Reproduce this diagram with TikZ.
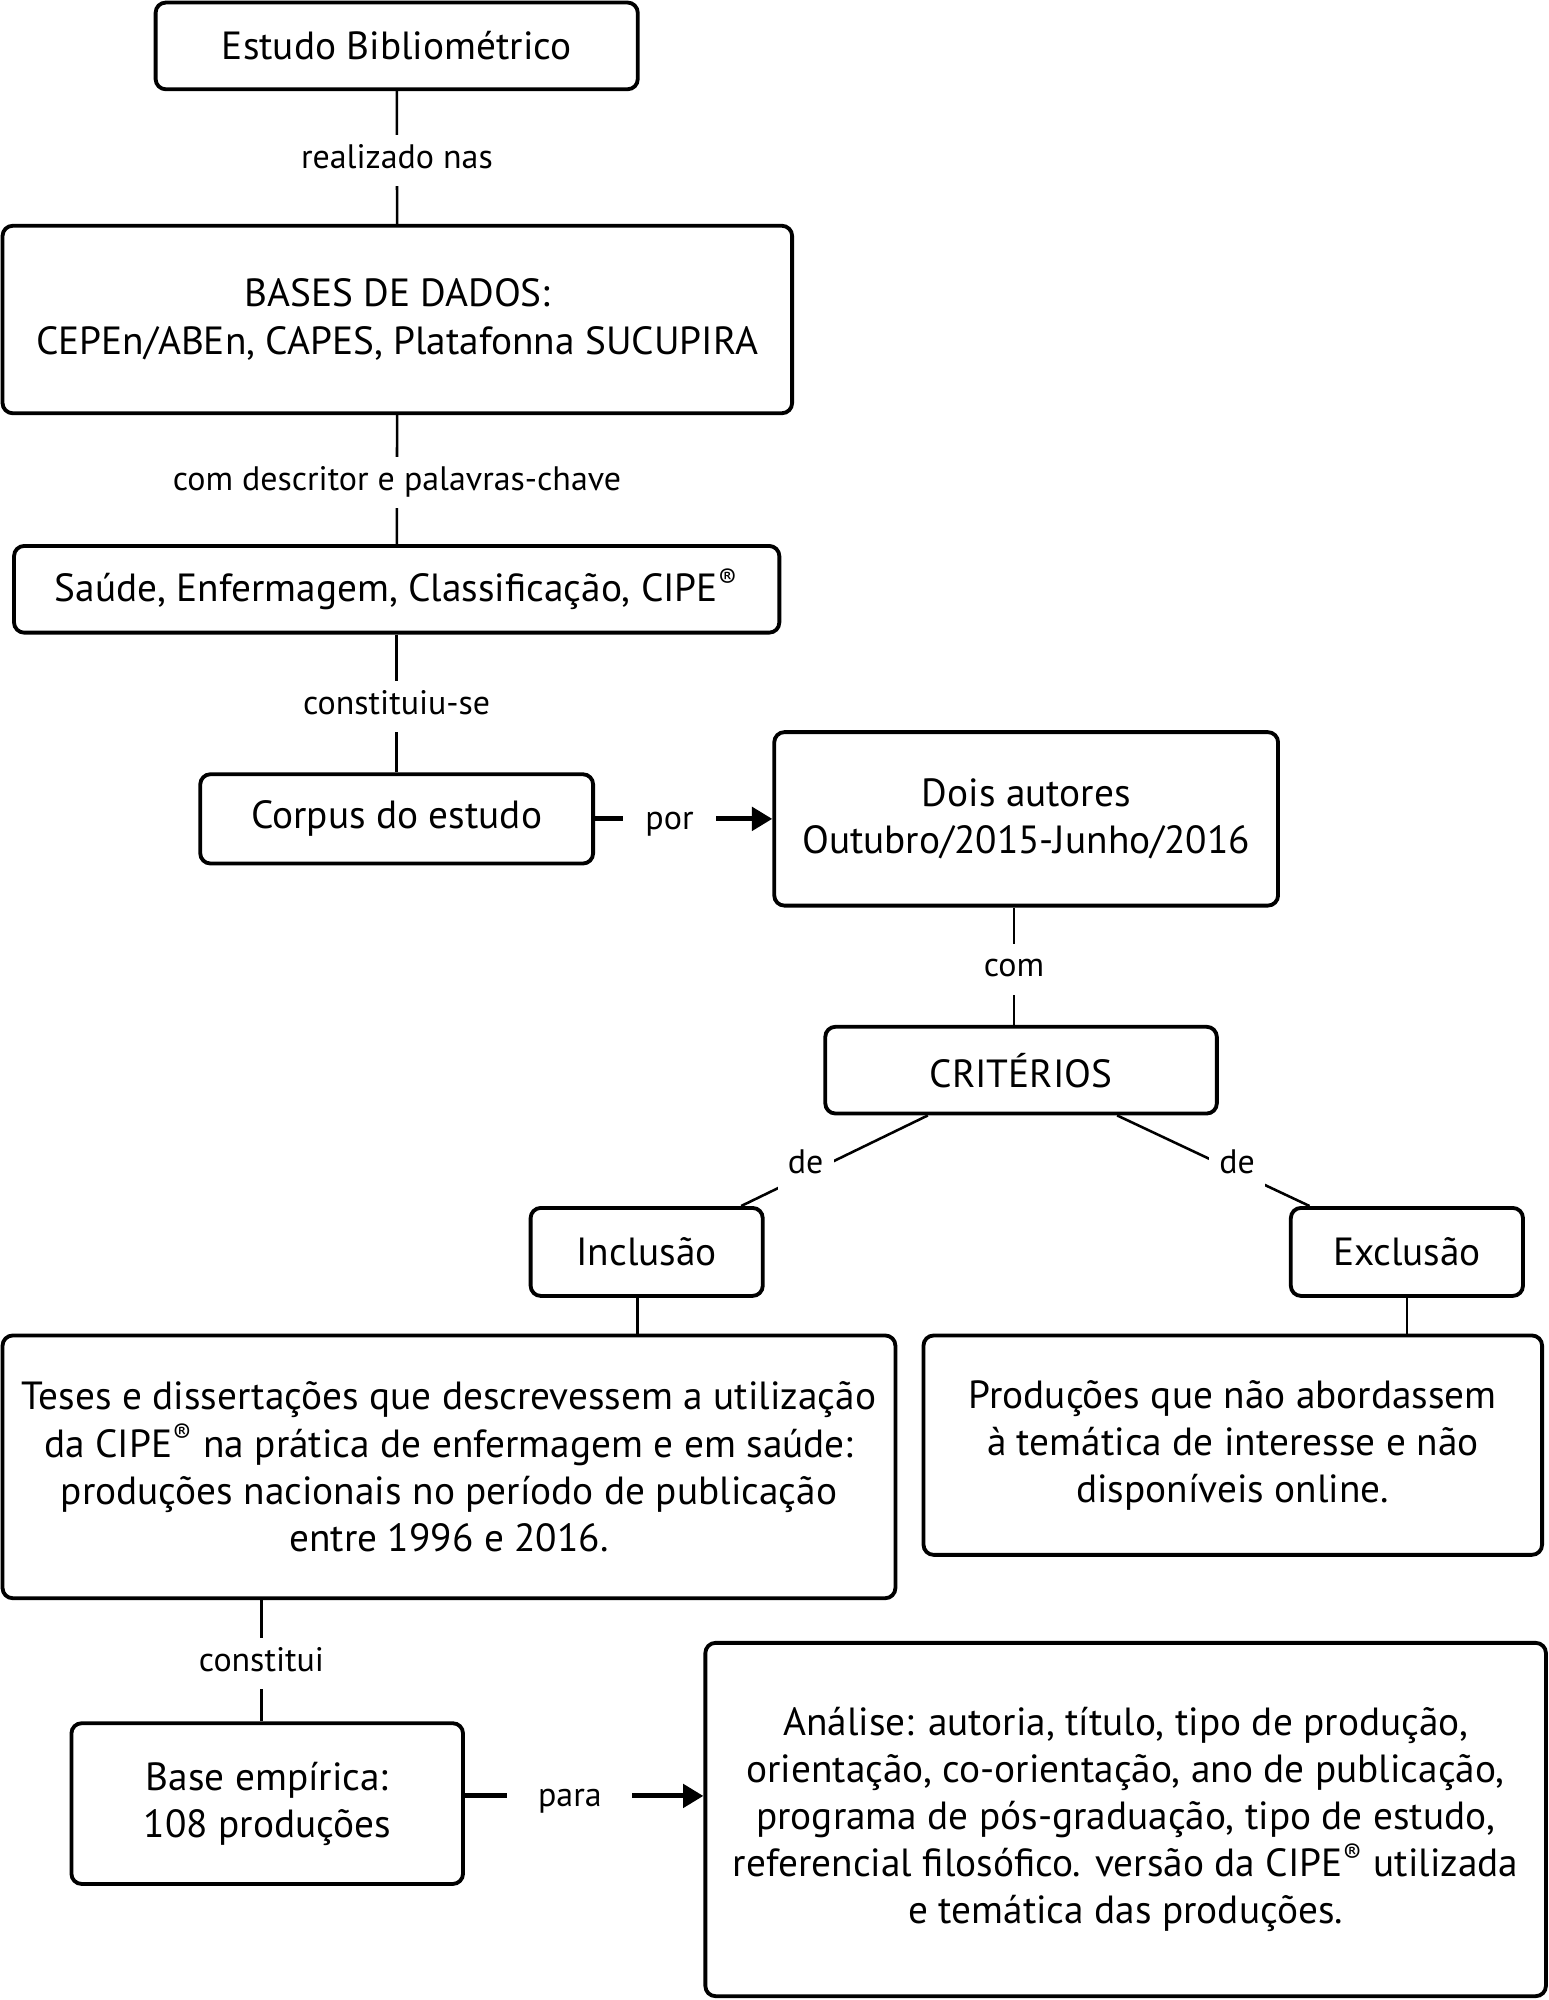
\documentclass[tikz,border=0pt]{standalone}
\usepackage{fontspec}
\setmainfont{PT Sans}
\usetikzlibrary{arrows.meta}
\begin{document}
\begin{tikzpicture}[x=0.5pt,y=-0.5pt,
 box/.style={draw=black, line width=1.5pt, rounded corners=4pt, align=center,
   font=\fontsize{15.4}{18.5}\selectfont, inner sep=0pt},
 lbl/.style={fill=white, font=\fontsize{13.3}{15}\selectfont, text height=9pt, text depth=3pt,
   inner xsep=4pt, inner ysep=4pt, yshift=-1.2pt},
 conn/.style={line width=1pt},
 arr/.style={line width=2pt, -{Triangle[length=8pt,width=9pt]}},
]
\useasboundingbox (0,0) rectangle (1214,1568);

\node[box, minimum width=189pt, minimum height=34pt] (est) at (311,36) {Estudo Bibliométrico};
\node[box, minimum width=309.5pt, minimum height=73.5pt] (bases) at (311.5,250.5)
  {BASES DE DADOS:\\CEPEn/ABEn, CAPES, Platafonna SUCUPIRA};
\node[box, minimum width=300pt, minimum height=34pt] (saude) at (311,462)
  {Saúde, Enfermagem, Classificação, CIPE\textsuperscript{®}};
\node[box, minimum width=154pt, minimum height=35pt] (corpus) at (311,642) {Corpus do estudo};
\node[box, minimum width=197.5pt, minimum height=68pt] (dois) at (804.5,642)
  {Dois autores\\Outubro/2015-Junho/2016};
\node[box, minimum width=153.5pt, minimum height=34pt] (crit) at (800.5,839) {CRITÉRIOS};
\node[box, minimum width=91pt, minimum height=34.5pt] (incl) at (507,981.5) {Inclusão};
\node[box, minimum width=91pt, minimum height=34.5pt] (excl) at (1103,981.5) {Exclusão};
\node[box, minimum width=350pt, minimum height=103pt] (teses) at (352,1150)
  {Teses e dissertações que descrevessem a utilização\\da CIPE\textsuperscript{®} na prática de enfermagem e em saúde:\\produções nacionais no período de publicação\\entre 1996 e 2016.};
\node[box, minimum width=242.5pt, minimum height=86pt] (prod) at (966.5,1133)
  {Produções que não abordassem\\à temática de interesse e não\\disponíveis online.};
\node[box, minimum width=153.5pt, minimum height=63pt] (base) at (209.5,1414)
  {Base empírica:\\108 produções};
\node[box, minimum width=329.5pt, minimum height=138.5pt] (anal) at (882.5,1426.5)
  {Análise: autoria, título, tipo de produção,\\orientação, co-orientação, ano de publicação,\\programa de pós-graduação, tipo de estudo,\\referencial filosófico. versão da CIPE\textsuperscript{®} utilizada\\e temática das produções.};

\coordinate (x795) at (795,0);
\coordinate (x500) at (500,0);
\coordinate (x1103) at (1103,0);
\coordinate (x205) at (205,0);
\coordinate (y1408) at (0,1408);

\draw[conn] (est) -- node[lbl]{realizado nas} (bases);
\draw[conn] (bases) -- node[lbl]{com descritor e palavras-chave} (saude);
\draw[conn] (saude) -- node[lbl]{constituiu-se} (corpus);
\draw[arr] (corpus) -- node[lbl, pos=0.42, inner xsep=9pt]{por} (dois);
\draw[conn] (dois.south -| x795) -- node[lbl]{com} (crit.north -| x795);
\draw[conn] (crit) -- node[lbl, pos=0.6, xshift=-4pt, yshift=2.7pt]{de} (incl);
\draw[conn] (crit) -- node[lbl, pos=0.57, xshift=4pt, yshift=1.7pt]{de} (excl);
\draw[conn] (incl.south -| x500) -- (teses.north -| x500);
\draw[conn] (excl.south -| x1103) -- (prod.north -| x1103);
\draw[conn] (teses.south -| x205) -- node[lbl]{constitui} (base.north -| x205);
\draw[arr] (base.east |- y1408) -- node[lbl, pos=0.44, inner xsep=12pt]{para} (anal.west |- y1408);
\end{tikzpicture}
\end{document}
